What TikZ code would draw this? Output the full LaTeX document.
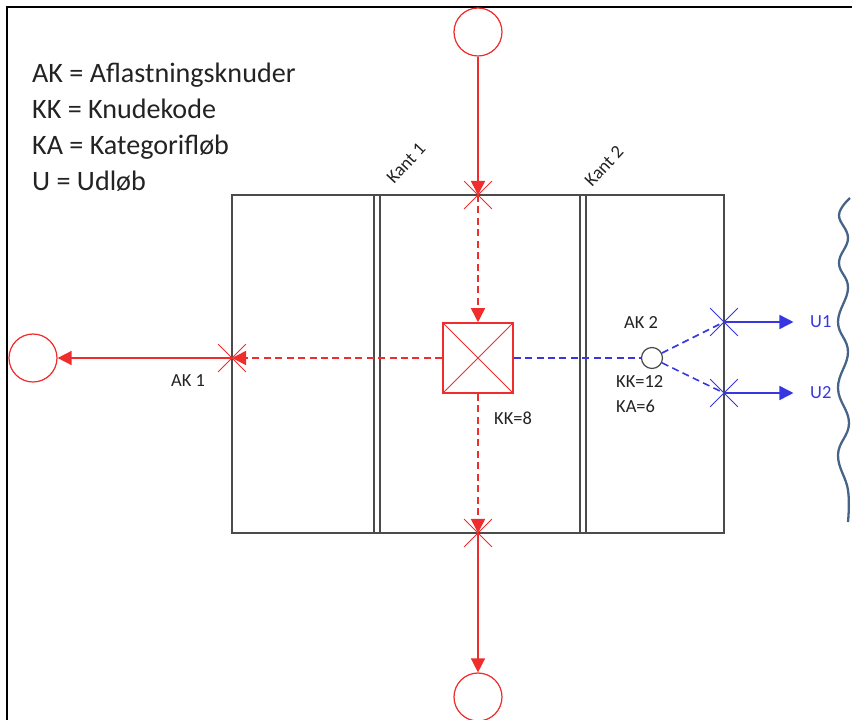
\documentclass[tikz,border=0pt]{standalone}
\usepackage{fontspec}
\setmainfont{Carlito}
\usetikzlibrary{arrows.meta,shapes.misc}
\definecolor{pipered}{RGB}{240,45,45}
\definecolor{pipeblue}{RGB}{55,55,225}
\definecolor{wallgray}{RGB}{75,75,75}
\definecolor{shoreblue}{RGB}{70,100,135}
\definecolor{labelgray}{RGB}{35,35,35}

\tikzset{
  manhole/.style={circle, draw=pipered, line width=0.7pt, minimum size=0.96cm, inner sep=0pt},
  kantbar/.style={draw=wallgray, line width=0.8pt},
  kantlabel/.style={rotate=47, inner sep=0pt, text=labelgray, font=\fontsize{10.5}{10.5}\selectfont},
  redpipe/.style={draw=pipered, line width=0.9pt, -{Triangle[length=8pt,width=8pt]}},
  reddash/.style={redpipe, dash pattern=on 4pt off 2.5pt},
  bluepipe/.style={draw=pipeblue, line width=0.9pt, -{Triangle[length=8pt,width=8pt]}},
  bluedash/.style={draw=pipeblue, line width=0.9pt, dash pattern=on 4pt off 2.5pt},
  crossmark/.style={cross out, draw=#1, line width=0.45pt, minimum size=0.54cm, inner sep=0pt},
  smalltext/.style={text=labelgray, font=\fontsize{10.5}{12}\selectfont},
}

\begin{document}
\begin{tikzpicture}[x=0.02cm,y=-0.02cm]
\useasboundingbox (0,0) rectangle (852,720);
% Frame
\draw[line width=1.2pt] (7,720) -- (7,7) -- (852,7);

% Legend
\node[anchor=north west, align=left, text=labelgray, font=\fontsize{16}{20.4}\selectfont] (legend) at (26,57)
  {AK = Aflastningsknuder\\KK = Knudekode\\KA = Kategorifløb\\U = Udløb};

% Catchment and edges
\draw[kantbar] (232,195) rectangle (724,533);
\draw[kantbar, fill=white] (374,195) rectangle (380,533);
\draw[kantbar, fill=white] (580,195) rectangle (586,533);
\node[kantlabel] (kant1) at (406,163) {Kant 1};
\node[kantlabel] (kant2) at (604,166) {Kant 2};

% Manholes
\node[manhole] (mtop) at (478,32) {};
\node[manhole] (mleft) at (33,358) {};
\node[manhole] (mbot) at (478,697) {};

% Node KK=8
\node[draw=pipered, fill=white, line width=0.9pt, minimum size=1.4cm, inner sep=0pt] (kk8) at (478,358) {};
\draw[pipered, line width=0.5pt] (kk8.north west) -- (kk8.south east) (kk8.north east) -- (kk8.south west);
\node[smalltext, anchor=west] (kk8lbl) at (488,418) {KK=8};

% Crossings
\coordinate (xtop) at (478,195);
\coordinate (xleft) at (232,358);
\coordinate (xbot) at (478,533);
\coordinate (xu1) at (724,322);
\coordinate (xu2) at (724,393);
\node[crossmark=pipered] at (xtop) {};
\node[crossmark=pipered] at (xleft) {};
\node[crossmark=pipered] at (xbot) {};
\node[crossmark=pipeblue] at (xu1) {};
\node[crossmark=pipeblue] at (xu2) {};

% Red pipes
\draw[redpipe] (mtop) -- (xtop);
\draw[reddash] (xtop) -- (kk8);
\draw[reddash] (kk8) -- (xleft);
\draw[redpipe] (xleft) -- (mleft);
\draw[reddash] (kk8) -- (xbot);
\draw[redpipe] (xbot) -- (mbot);
\node[smalltext] (ak1) at (188,381) {AK 1};

% AK 2 and outlets
\node[circle, draw=wallgray, fill=white, line width=0.7pt, minimum size=0.42cm, inner sep=0pt] (ak2) at (652,358) {};
\draw[bluedash] (kk8) -- (ak2);
\draw[bluedash] (ak2) -- (xu1);
\draw[bluedash] (ak2) -- (xu2);
\node[smalltext] (ak2lbl) at (641,323) {AK 2};
\node[smalltext, anchor=west] (kk12) at (610,382) {KK=12};
\node[smalltext, anchor=west] (ka6) at (610,406) {KA=6};

\node[text=pipeblue, font=\fontsize{10.5}{12}\selectfont, anchor=west] (u1) at (804,322) {U1};
\node[text=pipeblue, font=\fontsize{10.5}{12}\selectfont, anchor=west] (u2) at (804,393) {U2};
\draw[bluepipe] (xu1) -- ([xshift=-6pt]u1.west);
\draw[bluepipe] (xu2) -- ([xshift=-6pt]u2.west);

% Shore line
\draw[shoreblue, line width=1.3pt] plot[smooth, tension=0.7] coordinates {(850,198) (839,215) (848,238) (839,263) (848,288) (838,322) (848,352) (838,388) (849,423) (838,455) (848,490) (848,522)};
\end{tikzpicture}
\end{document}
